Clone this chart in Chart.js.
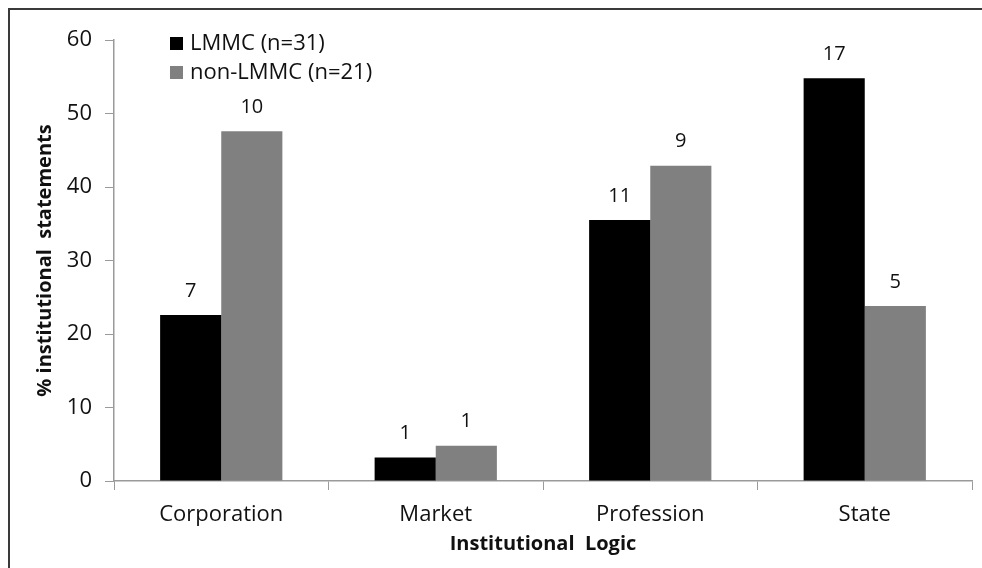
<!DOCTYPE html>
<html>
<head>
<meta charset="utf-8">
<script src="https://cdn.jsdelivr.net/npm/chart.js@4/dist/chart.umd.min.js"></script>
<style>
  html, body { margin: 0; padding: 0; background: #fff; }
  #wrap { position: relative; width: 982px; height: 568px; overflow: hidden; }
  #frame { position: absolute; left: 8px; top: 8px; width: 990px; height: 580px;
           border-top: 2px solid #3a3a3a; border-left: 2px solid #3a3a3a; }
  #chart { position: absolute; left: 0; top: 0; }
</style>
</head>
<body>
<div id="wrap">
  <div id="frame"></div>
  <canvas id="chart" width="982" height="568"></canvas>
</div>
<script>
// values
var categories = ['Corporation', 'Market', 'Profession', 'State'];
var seriesNames = ['LMMC (n=31)', 'non-LMMC (n=21)'];
var lmmcPct = [22.6, 3.2, 35.5, 54.8];
var nonLmmcPct = [47.6, 4.8, 42.9, 23.8];
var lmmcCounts = [7, 1, 11, 17];
var nonLmmcCounts = [10, 1, 9, 5];
var yMin = 0, yMax = 60, yStep = 10;

var FONT = '"Open Sans", "DejaVu Sans", sans-serif';
var axisGray = '#9a9a9a';

// counts above each bar
var countLabels = {
  id: 'countLabels',
  afterDatasetsDraw: function(chart) {
    var ctx = chart.ctx;
    var counts = [lmmcCounts, nonLmmcCounts];
    ctx.save();
    ctx.font = '20px ' + FONT;
    ctx.fillStyle = '#111';
    ctx.textAlign = 'center';
    ctx.textBaseline = 'middle';
    chart.data.datasets.forEach(function(ds, i) {
      chart.getDatasetMeta(i).data.forEach(function(bar, j) {
        ctx.fillText(String(counts[i][j]), bar.x, bar.y - 24);
      });
    });
    ctx.restore();
  }
};

// legend drawn inside the plot, top left
var innerLegend = {
  id: 'innerLegend',
  afterDraw: function(chart) {
    var ctx = chart.ctx;
    ctx.save();
    ctx.font = '22px ' + FONT;
    ctx.textBaseline = 'middle';
    chart.data.datasets.forEach(function(ds, i) {
      var y = 43 + i * 29;
      ctx.fillStyle = ds.backgroundColor;
      ctx.fillRect(170, y - 6, 13, 13);
      ctx.fillStyle = '#111';
      ctx.fillText(ds.label, 190, y + 1);
    });
    ctx.restore();
  }
};

new Chart(document.getElementById('chart'), {
  type: 'bar',
  data: {
    labels: categories,
    datasets: [
      { label: seriesNames[0], data: lmmcPct, backgroundColor: '#000000' },
      { label: seriesNames[1], data: nonLmmcPct, backgroundColor: '#808080' }
    ]
  },
  options: {
    responsive: false,
    animation: false,
    devicePixelRatio: 1,
    layout: { padding: { left: 0, right: 10, top: 40, bottom: 0 } },
    datasets: { bar: { categoryPercentage: 0.57, barPercentage: 1.0 } },
    plugins: {
      legend: { display: false },
      tooltip: { enabled: false }
    },
    scales: {
      x: {
        grid: { drawOnChartArea: false, drawTicks: true, tickLength: 9, color: axisGray, offset: true },
        border: { color: axisGray, width: 1.5 },
        ticks: { color: '#111', font: { family: FONT, size: 22 }, padding: 12 },
        title: { display: true, text: 'Institutional  Logic', color: '#111',
                 font: { family: FONT, size: 20, weight: 'bold' }, padding: { top: 0, bottom: 12 } },
        afterFit: function(scale) { scale.height = 87; }
      },
      y: {
        min: yMin, max: yMax,
        grid: { drawOnChartArea: false, drawTicks: true, tickLength: 9, color: axisGray },
        border: { color: axisGray, width: 1.5 },
        ticks: { stepSize: yStep, color: '#111', font: { family: FONT, size: 22 }, padding: 13 },
        title: { display: true, text: '% institutional  statements', color: '#111',
                 font: { family: FONT, size: 20, weight: 'bold' }, padding: { top: 33, bottom: 0 } },
        afterFit: function(scale) { scale.width = 114; }
      }
    }
  },
  plugins: [countLabels, innerLegend]
});
</script>
</body>
</html>
